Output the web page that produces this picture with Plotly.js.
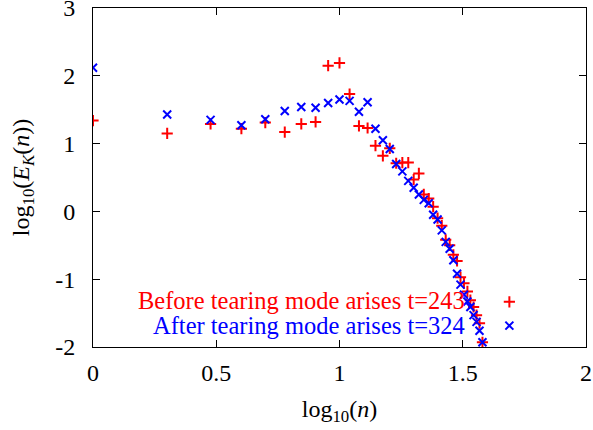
<!DOCTYPE html>
<html>
<head>
<meta charset="utf-8">
<script src="https://cdn.plot.ly/plotly-3.0.1.min.js"></script>
<style>html,body{margin:0;padding:0;background:#fff;}#chart{width:593px;height:430px;}</style>
</head>
<body>
<div id="chart"></div>
<script>
// log10(n) for n = 1..38
const logN = [0, 0.301, 0.477, 0.602, 0.699, 0.778, 0.845, 0.903, 0.954, 1.0,
  1.041, 1.079, 1.114, 1.146, 1.176, 1.204, 1.230, 1.255, 1.279, 1.301,
  1.322, 1.342, 1.362, 1.380, 1.398, 1.415, 1.431, 1.447, 1.462, 1.477,
  1.491, 1.505, 1.519, 1.531, 1.544, 1.556, 1.568, 1.580];
// Before tearing mode (t=243)
const beforeE = [1.34, 1.15, 1.29, 1.22, 1.31, 1.17, 1.29, 1.32, 2.15, 2.19,
  1.73, 1.26, 1.23, 0.97, 0.82, 0.93, 0.71, 0.72, 0.72, 0.47,
  0.56, 0.25, 0.19, 0.07, -0.10, -0.21, -0.42, -0.50, -0.64, -0.73,
  -0.97, -1.06, -1.18, -1.31, -1.41, -1.53, -1.65, -1.93];
// After tearing mode (t=324)
const afterE = [2.12, 1.43, 1.35, 1.27, 1.36, 1.48, 1.54, 1.53, 1.60, 1.65,
  1.63, 1.47, 1.61, 1.22, 1.05, 0.92, 0.70, 0.59, 0.45, 0.35,
  0.25, 0.17, 0.12, -0.05, -0.12, -0.28, -0.45, -0.55, -0.72, -0.92,
  -1.08, -1.23, -1.33, -1.41, -1.53, -1.63, -1.76, -1.93];
const seriesNames = ["Before tearing mode arises t=243", "After tearing mode arises t=324"];
const xTickVals = [0, 0.5, 1, 1.5, 2];
const xTickText = ["0", "0.5", "1", "1.5", "2"];
const yTickVals = [-2, -1, 0, 1, 2, 3];
const yTickText = ["-2", "-1", "0", "1", "2", "3"];

const FONT = "Liberation Serif, Times New Roman, serif";
const FS = 24;
const traces = [
  {x: logN, y: beforeE, mode: "markers", type: "scatter", name: " ",
   marker: {symbol: "cross-thin-open", size: 8, color: "#ff0000", line: {color: "#ff0000", width: 2}}},
  {x: logN, y: afterE, mode: "markers", type: "scatter", name: " ",
   marker: {symbol: "x-thin-open", size: 8, color: "#0000ff", line: {color: "#0000ff", width: 2}}}
];
const axisCommon = {
  showgrid: false, zeroline: false, showline: true, mirror: "ticks",
  linecolor: "#000", linewidth: 1, ticks: "inside", ticklen: 7, tickwidth: 1, tickcolor: "#000",
  ticklabeloverflow: "allow",
  tickfont: {family: FONT, size: FS, color: "#000"}
};
const layout = {
  width: 593, height: 430,
  margin: {l: 93, r: 7, t: 8, b: 83},
  paper_bgcolor: "#fff", plot_bgcolor: "#fff",
  font: {family: FONT, size: FS, color: "#000"},
  xaxis: Object.assign({}, axisCommon, {
    range: [0, 2.0001], tickvals: xTickVals, ticktext: xTickText, ticklabelstandoff: 4,
    title: {text: "log<sub>10</sub>(<i>n</i>)", font: {family: FONT, size: FS}, standoff: 15}
  }),
  yaxis: Object.assign({}, axisCommon, {
    range: [-2.0001, 3.0001], tickvals: yTickVals, ticktext: yTickText, ticklabelstandoff: 12,
    title: {text: "log<sub>10</sub>(<i>E<sub>K</sub></i>(<i>n</i>))", font: {family: FONT, size: FS}, standoff: 18}
  }),
  showlegend: true,
  legend: {x: 0.804, y: 0.183, xanchor: "left", yanchor: "top", bgcolor: "rgba(0,0,0,0)",
    font: {family: FONT, size: 16}, tracegroupgap: 0, itemwidth: 30},
  annotations: [
    {xref: "paper", yref: "paper", x: 0.7586, y: 0.1386, xanchor: "right", yanchor: "middle",
     text: seriesNames[0], showarrow: false, font: {family: FONT, size: 24.5, color: "#ff0000"}},
    {xref: "paper", yref: "paper", x: 0.7586, y: 0.062, xanchor: "right", yanchor: "middle",
     text: seriesNames[1], showarrow: false, font: {family: FONT, size: 24.5, color: "#0000ff"}}
  ]
};
Plotly.newPlot("chart", traces, layout, {displayModeBar: false, staticPlot: true});
</script>
</body>
</html>
